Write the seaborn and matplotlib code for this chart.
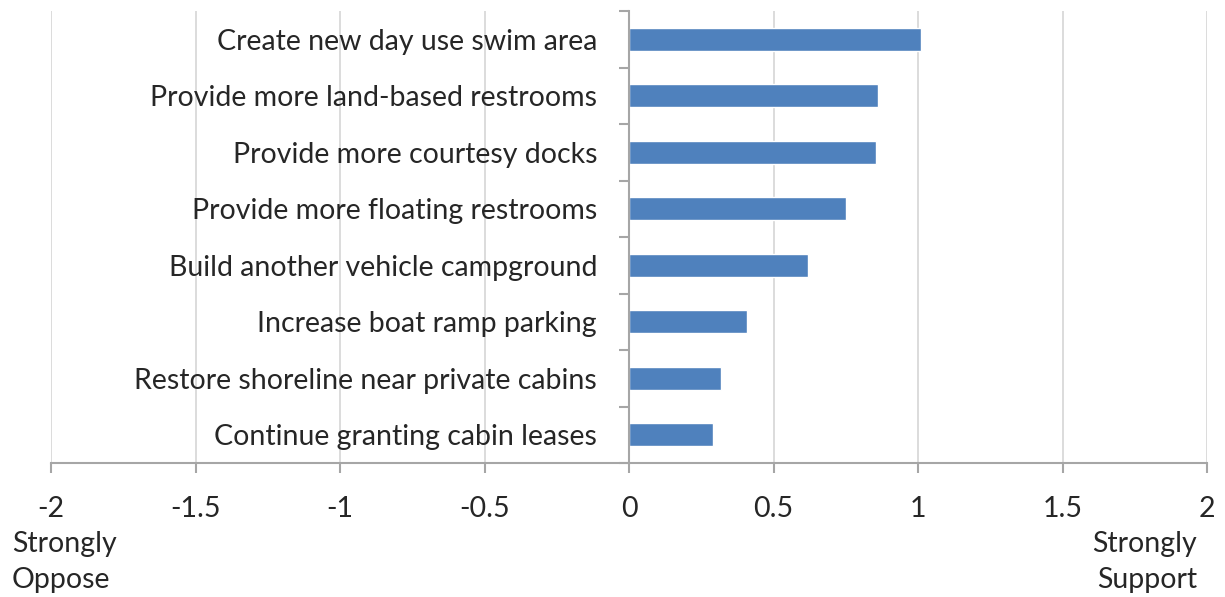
import numpy as np
import pandas as pd
import matplotlib
matplotlib.use("Agg")
import matplotlib.pyplot as plt
from matplotlib.ticker import FixedLocator
import seaborn as sns

# data
actions = [
    "Create new day use swim area",
    "Provide more land-based restrooms",
    "Provide more courtesy docks",
    "Provide more floating restrooms",
    "Build another vehicle campground",
    "Increase boat ramp parking",
    "Restore shoreline near private cabins",
    "Continue granting cabin leases",
]
mean_scores = [1.01, 0.86, 0.855, 0.75, 0.62, 0.41, 0.32, 0.29]
x_ticks = [-2, -1.5, -1, -0.5, 0, 0.5, 1, 1.5, 2]
x_tick_labels = ["-2", "-1.5", "-1", "-0.5", "0", "0.5", "1", "1.5", "2"]

df = pd.DataFrame({"action": actions, "score": mean_scores})

sns.set_style("white")
plt.rcParams["font.family"] = ["Lato", "DejaVu Sans"]

text_color = "#262626"
axis_color = "#a6a6a6"
grid_color = "#d9d9d9"
bar_color = "#4f81bd"
fsize = 20.5

fig = plt.figure(figsize=(12.25, 5.97), dpi=100)
ax = fig.add_axes([51 / 1225, 1 - 463 / 597, (1207 - 51) / 1225, (463 - 11) / 597])

sns.barplot(data=df, x="score", y="action", orient="h", color=bar_color,
            width=0.4, saturation=1, ax=ax, zorder=3)

ax.set_xlim(-2, 2)
ax.set_ylim(len(actions) - 0.5, -0.5)
ax.set_xlabel("")
ax.set_ylabel("")

# vertical gridlines
for xv in x_ticks:
    ax.axvline(xv, color=grid_color, lw=1.3, zorder=0)

ax.set_xticks(x_ticks)
ax.set_xticklabels(x_tick_labels)

# spines
for s in ["top", "right"]:
    ax.spines[s].set_visible(False)
ax.spines["left"].set_position(("data", 0))
ax.spines["left"].set_color(axis_color)
ax.spines["left"].set_linewidth(1.5)
ax.spines["left"].set_zorder(4)
ax.spines["bottom"].set_color(axis_color)
ax.spines["bottom"].set_linewidth(1.5)

# category ticks sit between bars
ax.yaxis.set_minor_locator(FixedLocator(np.arange(-0.5, len(actions), 1.0)))
ax.tick_params(axis="y", which="major", length=0, pad=23, labelsize=fsize,
               labelcolor=text_color)
ax.tick_params(axis="y", which="minor", length=7, width=1.5, color=axis_color,
               direction="out", left=True)
ax.tick_params(axis="x", which="major", length=7, width=1.5, color=axis_color,
               direction="out", pad=17, labelsize=fsize, labelcolor=text_color,
               bottom=True)

fig.text(12 / 1225, 1 - 562 / 597, "Strongly\nOppose", ha="left", va="center",
         fontsize=fsize, color=text_color, linespacing=1.5)
fig.text(1197 / 1225, 1 - 562 / 597, "Strongly\nSupport", ha="right", va="center",
         fontsize=fsize, color=text_color, linespacing=1.5)

fig.savefig("out.png", dpi=100)
